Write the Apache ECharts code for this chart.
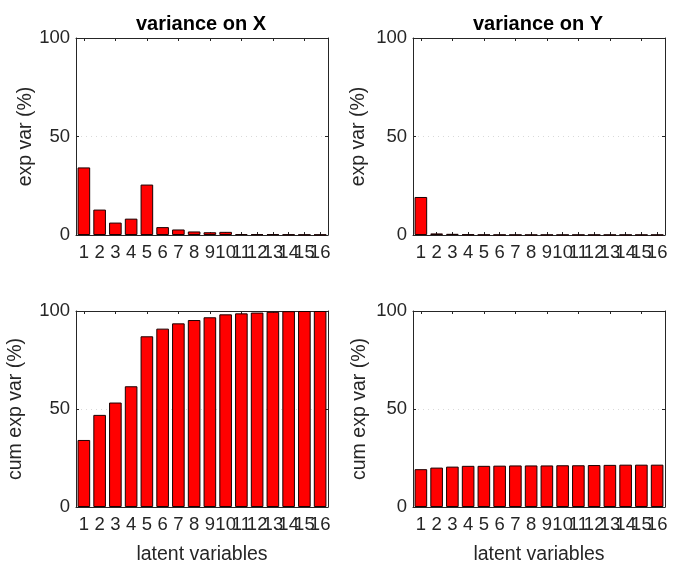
<!DOCTYPE html>
<html>
<head>
<meta charset="utf-8">
<script src="https://cdn.jsdelivr.net/npm/echarts@6/dist/echarts.min.js"></script>
<style>html,body{margin:0;padding:0;background:#fff;}#c{width:673px;height:566px;}</style>
</head>
<body>
<div id="c"></div>
<script>
const categories = ['1','2','3','4','5','6','7','8','9','10','11','12','13','14','15','16'];
const varX = [34.3, 12.9, 6.3, 8.3, 25.6, 4.0, 2.8, 1.8, 1.4, 1.6, 0.5, 0.4, 0.4, 0.3, 0.2, 0.2];
const varY = [19.3, 0.8, 0.6, 0.3, 0.15, 0.12, 0.1, 0.1, 0.1, 0.1, 0.1, 0.1, 0.1, 0.1, 0.1, 0.1];
const cumX = [34.2, 47.0, 53.3, 61.6, 87.1, 91.0, 93.7, 95.4, 96.8, 98.3, 98.8, 99.2, 99.6, 99.9, 100, 100];
const cumY = [19.3, 20.1, 20.6, 21.0, 21.0, 21.1, 21.2, 21.2, 21.2, 21.3, 21.3, 21.4, 21.5, 21.6, 21.6, 21.6];
const yTicks = [0, 50, 100];
const titles = ['variance on X', 'variance on Y'];
const yNames = ['exp var (%)', 'exp var (%)', 'cum exp var (%)', 'cum exp var (%)'];
const xName = 'latent variables';

const FONT = 'Liberation Sans, Arial, sans-serif';
const TXT = '#262626';
const panels = [
  {data: varX, left: 76, top: 38, title: titles[0], yName: yNames[0], gap: 40, xName: ''},
  {data: varY, left: 413, top: 38, title: titles[1], yName: yNames[1], gap: 44, xName: ''},
  {data: cumX, left: 76, top: 311, title: '', yName: yNames[2], gap: 50, xName: xName},
  {data: cumY, left: 413, top: 311, title: '', yName: yNames[3], gap: 43, xName: xName}
];
const W = 252, H = 197;

const grid = [], xAxis = [], yAxis = [], series = [], title = [];
panels.forEach((p, i) => {
  grid.push({left: p.left, top: p.top, width: W, height: H, containLabel: false});
  const lineStyle = {color: TXT, width: 1};
  xAxis.push({
    type: 'category', gridIndex: i, position: 'bottom', data: categories,
    boundaryGap: true,
    axisLine: {show: true, onZero: false, lineStyle},
    axisTick: {show: true, inside: true, alignWithLabel: true, length: 3, lineStyle},
    axisLabel: {interval: 0, color: TXT, fontSize: 18.5, fontFamily: FONT, margin: 8, hideOverlap: false},
    name: p.xName, nameLocation: 'middle', nameGap: 38,
    nameTextStyle: {color: TXT, fontSize: 19.5, fontFamily: FONT}
  });
  xAxis.push({
    type: 'category', gridIndex: i, position: 'top', data: categories,
    boundaryGap: true,
    axisLine: {show: true, onZero: false, lineStyle},
    axisTick: {show: true, inside: true, alignWithLabel: true, length: 3, lineStyle},
    axisLabel: {show: false}
  });
  yAxis.push({
    type: 'value', gridIndex: i, position: 'left', min: yTicks[0], max: yTicks[yTicks.length-1], interval: 50,
    axisLine: {show: true, onZero: false, lineStyle},
    axisTick: {show: true, inside: true, length: 3, lineStyle},
    axisLabel: {color: TXT, fontSize: 18.5, fontFamily: FONT, margin: 6},
    splitLine: {show: true, lineStyle: {color: '#d9d9d9', type: [1, 4], width: 1}},
    name: p.yName, nameLocation: 'middle', nameGap: p.gap, nameRotate: 90,
    nameTextStyle: {color: TXT, fontSize: 19.5, fontFamily: FONT}
  });
  yAxis.push({
    type: 'value', gridIndex: i, position: 'right', min: yTicks[0], max: yTicks[yTicks.length-1], interval: 50,
    axisLine: {show: true, onZero: false, lineStyle},
    axisTick: {show: true, inside: true, length: 3, lineStyle},
    axisLabel: {show: false},
    splitLine: {show: false}
  });
  series.push({
    type: 'bar', xAxisIndex: 2*i, yAxisIndex: 2*i, data: p.data,
    barWidth: '80%',
    itemStyle: {color: '#ff0000', borderColor: '#1a0000', borderWidth: 1},
    silent: true, animation: false
  });
  if (p.title) {
    title.push({text: p.title, left: p.left + W/2 - 6, top: 9, textAlign: 'center',
      textStyle: {color: '#000', fontSize: 20, fontWeight: 'bold', fontFamily: FONT}});
  }
});

const chart = echarts.init(document.getElementById('c'), null, {renderer: 'canvas'});
chart.setOption({backgroundColor: '#fff', animation: false, title, grid, xAxis, yAxis, series});
</script>
</body>
</html>
